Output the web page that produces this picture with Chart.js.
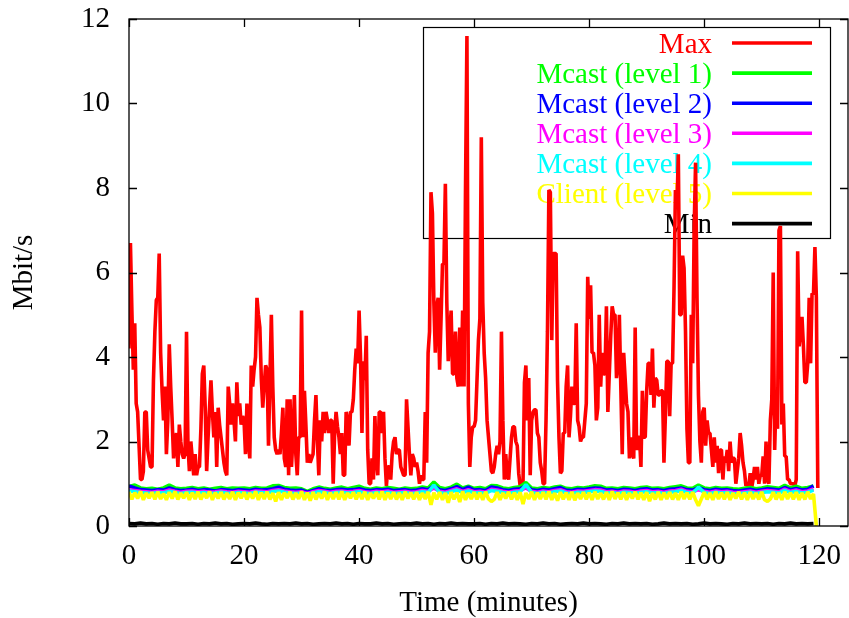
<!DOCTYPE html>
<html>
<head>
<meta charset="utf-8">
<script src="https://cdn.jsdelivr.net/npm/chart.js@4.4.0/dist/chart.umd.min.js"></script>
<style>
  body { margin: 0; background: #fff; }
  canvas { display: block; }
</style>
</head>
<body>
<canvas id="myChart" width="849" height="618"></canvas>
<script>
// sampling interval of each trace, in minutes
var maxStep = 0.25;
var clientStep = 0.5;
var levelStep = 1;

// Max rate, one value every 0.25 min (0 .. 119.75), one row = 5 minutes
var maxRate = [
  4.2, 6.7, 5.1, 3.7, 4.8, 2.9, 2.7, 1.9, 1.1, 1.1, 1.3, 2.7, 2.7, 1.8, 1.6, 1.4, 1.4, 3.45, 4.6, 5.35,
  5.4, 6.45, 4.1, 3.2, 2.5, 3.3, 1.7, 2.5, 4.3, 3.3, 2.5, 1.6, 2.0, 2.2, 1.4, 2.4, 2.0, 1.7, 1.6, 1.7,
  4.6, 1.9, 1.3, 2.0, 1.6, 1.2, 1.7, 1.2, 1.4, 1.4, 2.3, 3.6, 3.8, 2.8, 1.3, 2.1, 2.8, 3.45, 2.7, 2.1,
  2.7, 1.4, 2.8, 2.4, 2.1, 1.8, 1.5, 1.3, 1.2, 3.3, 2.9, 2.4, 2.9, 2.5, 2.0, 3.4, 2.6, 2.9, 2.4, 2.6,
  2.5, 1.7, 2.9, 2.0, 1.6, 3.8, 3.3, 3.7, 4.0, 5.4, 5.0, 4.7, 3.5, 2.8, 3.3, 3.8, 3.7, 1.9, 3.5, 5.0,
  3.3, 2.1, 1.8, 1.7, 1.8, 1.7, 2.2, 2.8, 1.6, 1.4, 3.0, 1.2, 3.0, 1.4, 2.1, 3.1, 1.7, 1.2, 2.1, 2.1,
  5.1, 2.1, 3.2, 2.4, 1.5, 1.7, 1.5, 1.6, 1.7, 2.5, 3.1, 2.0, 1.2, 2.5, 2.0, 2.7, 2.2, 2.7, 2.5, 2.2,
  2.5, 2.5, 1.0, 2.2, 2.7, 2.35, 2.1, 1.7, 2.2, 1.2, 1.2, 2.7, 2.5, 1.9, 2.7, 2.7, 3.0, 3.7, 4.2, 3.85,
  5.1, 4.0, 2.2, 3.9, 3.45, 4.5, 1.8, 1.0, 1.0, 1.6, 1.1, 2.6, 1.6, 1.2, 2.7, 2.7, 2.2, 2.7, 1.6, 0.95,
  1.4, 1.4, 1.1, 1.7, 2.0, 2.1, 1.7, 1.8, 1.8, 1.4, 1.3, 1.2, 1.2, 3.0, 2.35, 1.7, 1.2, 1.7, 1.6, 1.4,
  1.5, 1.3, 1.0, 1.2, 1.1, 1.1, 2.7, 1.5, 4.1, 4.6, 7.9, 7.4, 5.3, 4.1, 5.2, 5.4, 3.7, 4.9, 6.2, 6.2,
  8.1, 5.3, 3.9, 4.5, 5.1, 3.6, 3.6, 4.6, 3.5, 3.3, 4.7, 3.3, 5.1, 3.3, 7.95, 11.6, 2.9, 1.4, 2.1, 2.35,
  2.35, 2.5, 3.45, 4.4, 4.9, 9.2, 5.3, 4.1, 3.5, 2.5, 2.1, 1.7, 1.3, 1.25, 1.4, 1.7, 1.9, 1.7, 2.0, 4.6,
  2.5, 1.1, 1.7, 1.2, 1.1, 1.6, 2.1, 2.35, 2.35, 2.0, 1.9, 1.25, 0.95, 0.95, 1.0, 3.4, 3.8, 2.5, 3.5, 1.2,
  2.5, 2.7, 2.75, 2.75, 2.2, 2.1, 1.5, 1.3, 1.0, 1.0, 2.5, 4.6, 7.95, 7.9, 4.4, 6.45, 6.45, 6.45, 3.45, 2.1,
  1.25, 1.3, 2.2, 2.2, 3.3, 3.8, 2.1, 2.6, 3.3, 2.9, 2.9, 4.8, 2.5, 2.35, 2.0, 2.1, 2.1, 2.5, 2.9, 5.9,
  4.9, 5.7, 4.1, 4.1, 3.8, 2.5, 2.8, 5.0, 3.3, 4.1, 3.6, 3.6, 5.2, 2.7, 3.6, 4.5, 5.2, 5.0, 5.0, 3.5,
  3.8, 5.0, 3.3, 1.7, 4.1, 3.5, 2.9, 2.7, 1.6, 2.1, 1.7, 1.6, 4.7, 1.8, 2.1, 2.1, 1.4, 3.2, 2.1, 2.1,
  3.2, 3.85, 3.85, 3.1, 4.2, 2.8, 3.5, 3.45, 3.1, 3.1, 3.2, 3.2, 1.5, 2.6, 3.9, 3.9, 2.6, 3.85, 3.85, 5.6,
  7.95, 7.5, 8.8, 5.0, 5.0, 6.4, 6.1, 4.6, 2.3, 1.5, 1.5, 5.0, 3.85, 7.0, 8.6, 5.4, 3.1, 2.0, 1.5, 2.7,
  2.8, 1.9, 2.5, 2.2, 2.2, 1.8, 1.4, 2.1, 1.5, 1.9, 1.25, 1.8, 1.8, 1.1, 1.65, 1.5, 1.8, 1.3, 2.0, 1.5,
  1.6, 1.6, 1.0, 1.3, 1.6, 2.2, 1.9, 1.5, 1.3, 0.95, 1.0, 0.95, 1.25, 0.9, 1.1, 1.4, 1.1, 1.4, 1.0, 1.2,
  1.2, 1.65, 1.0, 2.0, 1.1, 1.0, 2.5, 3.0, 6.0, 1.8, 3.1, 2.3, 7.0, 7.1, 2.4, 2.9, 1.65, 1.65, 1.1, 1.1,
  1.0, 1.0, 1.0, 0.95, 1.1, 6.5, 4.25, 4.65, 4.95, 4.25, 3.4, 3.4, 3.85, 5.4, 3.85, 5.5, 5.5, 6.6, 5.4, 0.9
];

// multicast levels, one value per minute (0 .. 119)
var mcast1 = [
  0.93, 0.97, 0.90, 0.88, 0.89, 0.87, 0.90, 0.97, 0.90, 0.88,
  0.89, 0.91, 0.88, 0.90, 0.87, 0.89, 0.91, 0.88, 0.90, 0.89,
  0.90, 0.88, 0.91, 0.89, 0.90, 0.95, 0.96, 0.91, 0.89, 0.90,
  0.88, 0.82, 0.88, 0.92, 0.89, 0.87, 0.90, 0.92, 0.88, 0.91,
  0.94, 0.89, 0.87, 0.90, 0.88, 0.91, 0.89, 0.87, 0.90, 0.88,
  0.89, 0.92, 0.90, 1.04, 0.91, 0.88, 0.92, 0.99, 0.90, 0.94,
  0.89, 0.91, 0.88, 0.96, 0.95, 0.90, 0.88, 0.91, 0.93, 1.03,
  0.90, 0.88, 0.91, 0.89, 0.92, 0.94, 0.89, 0.88, 0.91, 0.90,
  0.92, 0.95, 0.94, 0.89, 0.90, 0.88, 0.91, 0.90, 0.88, 0.91,
  0.92, 0.89, 0.90, 0.88, 0.91, 0.93, 0.95, 0.90, 0.89, 0.97,
  0.90, 0.88, 0.91, 0.89, 0.90, 0.88, 0.87, 0.89, 0.91, 0.88,
  0.90, 0.93, 0.91, 0.89, 0.96, 0.90, 0.94, 0.89, 0.91, 0.95
];
var mcast2 = [
  0.95, 0.90, 0.86, 0.85, 0.84, 0.86, 0.85, 0.90, 0.86, 0.84,
  0.85, 0.87, 0.84, 0.86, 0.85, 0.83, 0.86, 0.85, 0.84, 0.86,
  0.85, 0.84, 0.87, 0.85, 0.86, 0.88, 0.92, 0.87, 0.85, 0.84,
  0.85, 0.80, 0.84, 0.88, 0.85, 0.84, 0.86, 0.87, 0.85, 0.86,
  0.88, 0.85, 0.84, 0.86, 0.85, 0.87, 0.84, 0.85, 0.86, 0.84,
  0.85, 0.88, 0.86, 0.95, 0.86, 0.84, 0.88, 0.93, 0.86, 0.92,
  0.85, 0.86, 0.84, 0.92, 0.90, 0.86, 0.84, 0.87, 0.88, 0.95,
  0.86, 0.84, 0.87, 0.85, 0.88, 0.91, 0.85, 0.84, 0.87, 0.86,
  0.88, 0.90, 0.89, 0.85, 0.86, 0.84, 0.87, 0.86, 0.84, 0.87,
  0.88, 0.85, 0.86, 0.84, 0.87, 0.88, 0.90, 0.86, 0.85, 0.91,
  0.86, 0.84, 0.87, 0.85, 0.86, 0.84, 0.83, 0.85, 0.87, 0.84,
  0.86, 0.88, 0.87, 0.85, 0.91, 0.86, 0.89, 0.85, 0.87, 0.95
];
var mcast3 = [
  0.86, 0.84, 0.82, 0.81, 0.80, 0.82, 0.81, 0.85, 0.82, 0.80,
  0.82, 0.83, 0.81, 0.82, 0.80, 0.81, 0.83, 0.81, 0.80, 0.82,
  0.81, 0.80, 0.83, 0.82, 0.81, 0.84, 0.86, 0.83, 0.81, 0.80,
  0.81, 0.77, 0.81, 0.84, 0.82, 0.80, 0.82, 0.83, 0.81, 0.82,
  0.84, 0.81, 0.80, 0.82, 0.81, 0.83, 0.80, 0.81, 0.82, 0.80,
  0.81, 0.84, 0.82, 0.90, 0.82, 0.80, 0.84, 0.88, 0.82, 0.86,
  0.81, 0.82, 0.80, 0.87, 0.85, 0.82, 0.80, 0.83, 0.84, 0.90,
  0.82, 0.80, 0.83, 0.81, 0.84, 0.86, 0.81, 0.80, 0.83, 0.82,
  0.84, 0.86, 0.85, 0.81, 0.82, 0.80, 0.83, 0.82, 0.80, 0.83,
  0.84, 0.81, 0.82, 0.80, 0.83, 0.84, 0.87, 0.82, 0.81, 0.86,
  0.82, 0.80, 0.83, 0.81, 0.82, 0.80, 0.79, 0.81, 0.83, 0.80,
  0.82, 0.84, 0.83, 0.81, 0.87, 0.82, 0.85, 0.81, 0.83, 0.88
];
var mcast4 = [
  0.83, 0.81, 0.79, 0.78, 0.77, 0.79, 0.78, 0.82, 0.79, 0.77,
  0.79, 0.80, 0.78, 0.79, 0.77, 0.78, 0.80, 0.78, 0.77, 0.79,
  0.78, 0.77, 0.80, 0.79, 0.78, 0.81, 0.83, 0.80, 0.78, 0.77,
  0.78, 0.74, 0.78, 0.81, 0.79, 0.77, 0.79, 0.80, 0.78, 0.79,
  0.81, 0.78, 0.77, 0.79, 0.78, 0.80, 0.77, 0.78, 0.79, 0.77,
  0.78, 0.81, 0.79, 0.97, 0.79, 0.77, 0.81, 0.85, 0.79, 0.83,
  0.78, 0.79, 0.77, 0.84, 0.82, 0.79, 0.77, 0.80, 0.81, 0.98,
  0.79, 0.77, 0.80, 0.78, 0.81, 0.83, 0.78, 0.77, 0.80, 0.79,
  0.81, 0.83, 0.82, 0.78, 0.79, 0.77, 0.80, 0.79, 0.77, 0.80,
  0.81, 0.78, 0.79, 0.77, 0.80, 0.81, 0.84, 0.79, 0.78, 0.92,
  0.79, 0.77, 0.80, 0.78, 0.79, 0.77, 0.76, 0.78, 0.80, 0.77,
  0.79, 0.81, 0.80, 0.78, 0.84, 0.79, 0.82, 0.78, 0.80, 0.85
];
// client, one value every 0.5 min (0 .. 119.5), drops to 0 at the end
var client5 = [
  0.81, 0.63, 0.79, 0.65, 0.82, 0.62, 0.78, 0.66, 0.80, 0.63, 0.81, 0.64, 0.77, 0.62, 0.80, 0.65, 0.82, 0.63, 0.78, 0.66,
  0.80, 0.62, 0.79, 0.64, 0.81, 0.63, 0.78, 0.66, 0.82, 0.62, 0.79, 0.65, 0.80, 0.63, 0.78, 0.64, 0.81, 0.62, 0.79, 0.66,
  0.80, 0.63, 0.78, 0.65, 0.82, 0.62, 0.79, 0.64, 0.81, 0.63, 0.78, 0.58, 0.80, 0.62, 0.79, 0.66, 0.81, 0.63, 0.78, 0.64,
  0.82, 0.62, 0.79, 0.60, 0.80, 0.63, 0.78, 0.65, 0.81, 0.62, 0.79, 0.64, 0.80, 0.63, 0.82, 0.62, 0.78, 0.66, 0.80, 0.63,
  0.79, 0.64, 0.81, 0.62, 0.78, 0.65, 0.80, 0.63, 0.82, 0.62, 0.79, 0.64, 0.80, 0.63, 0.78, 0.62, 0.81, 0.65, 0.79, 0.63,
  0.80, 0.62, 0.78, 0.64, 0.81, 0.50, 0.79, 0.63, 0.80, 0.62, 0.78, 0.55, 0.80, 0.63, 0.79, 0.57, 0.82, 0.62, 0.78, 0.64,
  0.80, 0.63, 0.79, 0.62, 0.81, 0.64, 0.58, 0.63, 0.80, 0.62, 0.78, 0.65, 0.81, 0.63, 0.79, 0.62, 0.80, 0.52, 0.78, 0.64,
  0.81, 0.62, 0.79, 0.64, 0.80, 0.63, 0.82, 0.62, 0.78, 0.60, 0.80, 0.63, 0.79, 0.62, 0.81, 0.61, 0.78, 0.64, 0.80, 0.63,
  0.79, 0.62, 0.81, 0.64, 0.78, 0.63, 0.80, 0.62, 0.82, 0.64, 0.79, 0.63, 0.80, 0.62, 0.78, 0.65, 0.81, 0.63, 0.79, 0.62,
  0.80, 0.59, 0.78, 0.63, 0.81, 0.62, 0.79, 0.64, 0.80, 0.63, 0.78, 0.62, 0.81, 0.64, 0.79, 0.63, 0.80, 0.62, 0.48, 0.64,
  0.80, 0.63, 0.78, 0.62, 0.81, 0.64, 0.79, 0.63, 0.80, 0.62, 0.78, 0.65, 0.81, 0.63, 0.79, 0.62, 0.80, 0.64, 0.78, 0.63,
  0.81, 0.62, 0.58, 0.64, 0.80, 0.63, 0.78, 0.62, 0.81, 0.64, 0.79, 0.63, 0.80, 0.62, 0.78, 0.63, 0.81, 0.64, 0.76, 0.0
];
// Min, one value per minute (0 .. 119)
var minRate = [
  0.06, 0.05, 0.07, 0.05, 0.06, 0.04, 0.06, 0.05, 0.07, 0.05,
  0.05, 0.06, 0.04, 0.06, 0.05, 0.07, 0.05, 0.06, 0.04, 0.05,
  0.06, 0.05, 0.07, 0.05, 0.04, 0.06, 0.05, 0.06, 0.05, 0.07,
  0.05, 0.06, 0.04, 0.05, 0.06, 0.05, 0.07, 0.05, 0.06, 0.04,
  0.06, 0.05, 0.05, 0.07, 0.05, 0.06, 0.04, 0.05, 0.06, 0.05,
  0.07, 0.05, 0.06, 0.04, 0.06, 0.05, 0.07, 0.05, 0.06, 0.05,
  0.05, 0.06, 0.04, 0.06, 0.05, 0.07, 0.05, 0.06, 0.05, 0.04,
  0.06, 0.05, 0.07, 0.05, 0.06, 0.04, 0.05, 0.06, 0.05, 0.07,
  0.05, 0.06, 0.05, 0.04, 0.06, 0.05, 0.07, 0.05, 0.06, 0.05,
  0.06, 0.04, 0.05, 0.07, 0.05, 0.06, 0.05, 0.06, 0.04, 0.05,
  0.07, 0.05, 0.06, 0.05, 0.04, 0.06, 0.05, 0.07, 0.05, 0.06,
  0.05, 0.06, 0.04, 0.06, 0.05, 0.07, 0.05, 0.06, 0.05, 0.06
];

var xTicks = [0, 20, 40, 60, 80, 100, 120];
var yTicks = [0, 2, 4, 6, 8, 10, 12];

var seriesNames = ["Max", "Mcast (level 1)", "Mcast (level 2)", "Mcast (level 3)",
                   "Mcast (level 4)", "Client (level 5)", "Min"];
var seriesColors = ["#ff0000", "#00ff00", "#0000ff", "#ff00ff", "#00ffff", "#ffff00", "#000000"];
var seriesValues = [maxRate, mcast1, mcast2, mcast3, mcast4, client5, minRate];
var seriesSteps = [maxStep, levelStep, levelStep, levelStep, levelStep, clientStep, levelStep];

var fontFamily = "'Liberation Serif', 'Times New Roman', serif";
var fontSize = 29;

function toPoints(values, step) {
  return values.map(function(v, i) { return {x: i * step, y: v}; });
}

var datasets = seriesNames.map(function(name, i) {
  return {
    label: name,
    data: toPoints(seriesValues[i], seriesSteps[i]),
    borderColor: seriesColors[i],
    backgroundColor: seriesColors[i],
    borderWidth: 3.6,
    borderJoinStyle: 'bevel',
    pointRadius: 0,
    tension: 0,
    fill: false,
    order: seriesNames.length - 1 - i   // gnuplot order: Max drawn first, Min on top
  };
});

// gnuplot look: key box inside the plot, frame with inward ticks on all sides
var gnuplotLook = {
  id: 'gnuplotLook',
  beforeDatasetsDraw: function(chart) {
    var ctx = chart.ctx;
    var area = chart.chartArea;
    var boxRight = area.right - 18;
    var boxTop = area.top + 8;
    var boxW = 407, boxH = 211;
    ctx.save();
    ctx.strokeStyle = '#000';
    ctx.lineWidth = 1.2;
    ctx.strokeRect(boxRight - boxW + 0.5, boxTop + 0.5, boxW, boxH);
    ctx.font = fontSize + 'px ' + fontFamily;
    ctx.textAlign = 'right';
    ctx.textBaseline = 'alphabetic';
    chart.data.datasets.forEach(function(ds, i) {
      var rowY = boxTop + 16 + i * 30.1;
      ctx.fillStyle = ds.borderColor;
      ctx.fillText(ds.label, boxRight - 118, rowY + 9.6);
      ctx.strokeStyle = ds.borderColor;
      ctx.lineWidth = ds.borderWidth;
      ctx.beginPath();
      ctx.moveTo(boxRight - 98, rowY);
      ctx.lineTo(boxRight - 18, rowY);
      ctx.stroke();
    });
    ctx.restore();
  },
  afterDatasetsDraw: function(chart) {
    var ctx = chart.ctx;
    var area = chart.chartArea;
    var xs = chart.scales.x, ys = chart.scales.y;
    var tick = 8;
    ctx.save();
    ctx.strokeStyle = '#000';
    ctx.lineWidth = 1.3;
    ctx.strokeRect(area.left, area.top, area.right - area.left, area.bottom - area.top);
    ctx.beginPath();
    xTicks.forEach(function(v) {
      var px = Math.round(xs.getPixelForValue(v)) + 0.5;
      ctx.moveTo(px, area.bottom); ctx.lineTo(px, area.bottom - tick);
      ctx.moveTo(px, area.top); ctx.lineTo(px, area.top + tick);
    });
    yTicks.forEach(function(v) {
      var py = Math.round(ys.getPixelForValue(v)) + 0.5;
      ctx.moveTo(area.left, py); ctx.lineTo(area.left + tick, py);
      ctx.moveTo(area.right, py); ctx.lineTo(area.right - tick, py);
    });
    ctx.stroke();
    ctx.restore();
  }
};

Chart.defaults.font.family = fontFamily;
Chart.defaults.font.size = fontSize;
Chart.defaults.color = '#000';

var ctx = document.getElementById('myChart').getContext('2d');
var chart = new Chart(ctx, {
  type: 'line',
  data: { datasets: datasets },
  plugins: [gnuplotLook],
  options: {
    responsive: false,
    animation: false,
    devicePixelRatio: 1,
    layout: { padding: { top: 19, right: 1, left: 0, bottom: 0 } },
    plugins: {
      legend: { display: false },
      tooltip: { enabled: false }
    },
    scales: {
      x: {
        type: 'linear',
        min: 0,
        max: 125,
        grid: { display: false, drawTicks: false },
        border: { display: false },
        ticks: { padding: 13, maxRotation: 0 },
        afterBuildTicks: function(scale) {
          scale.ticks = xTicks.map(function(v) { return {value: v}; });
        },
        afterFit: function(scale) {
          scale.height = 92;
          scale.paddingLeft = 0;
          scale.paddingRight = 0;
        },
        title: { display: true, text: 'Time (minutes)', font: { lineHeight: 1.0 }, padding: { top: 0, bottom: 0 } }
      },
      y: {
        type: 'linear',
        min: 0,
        max: 12,
        grid: { display: false, drawTicks: false },
        border: { display: false },
        ticks: { padding: 19 },
        afterBuildTicks: function(scale) {
          scale.ticks = yTicks.map(function(v) { return {value: v}; });
        },
        afterFit: function(scale) {
          scale.width = 129;
          scale.paddingTop = 0;
          scale.paddingBottom = 0;
        },
        title: { display: true, text: 'Mbit/s', padding: { top: 7, bottom: 0 } }
      }
    }
  }
});
</script>
</body>
</html>
